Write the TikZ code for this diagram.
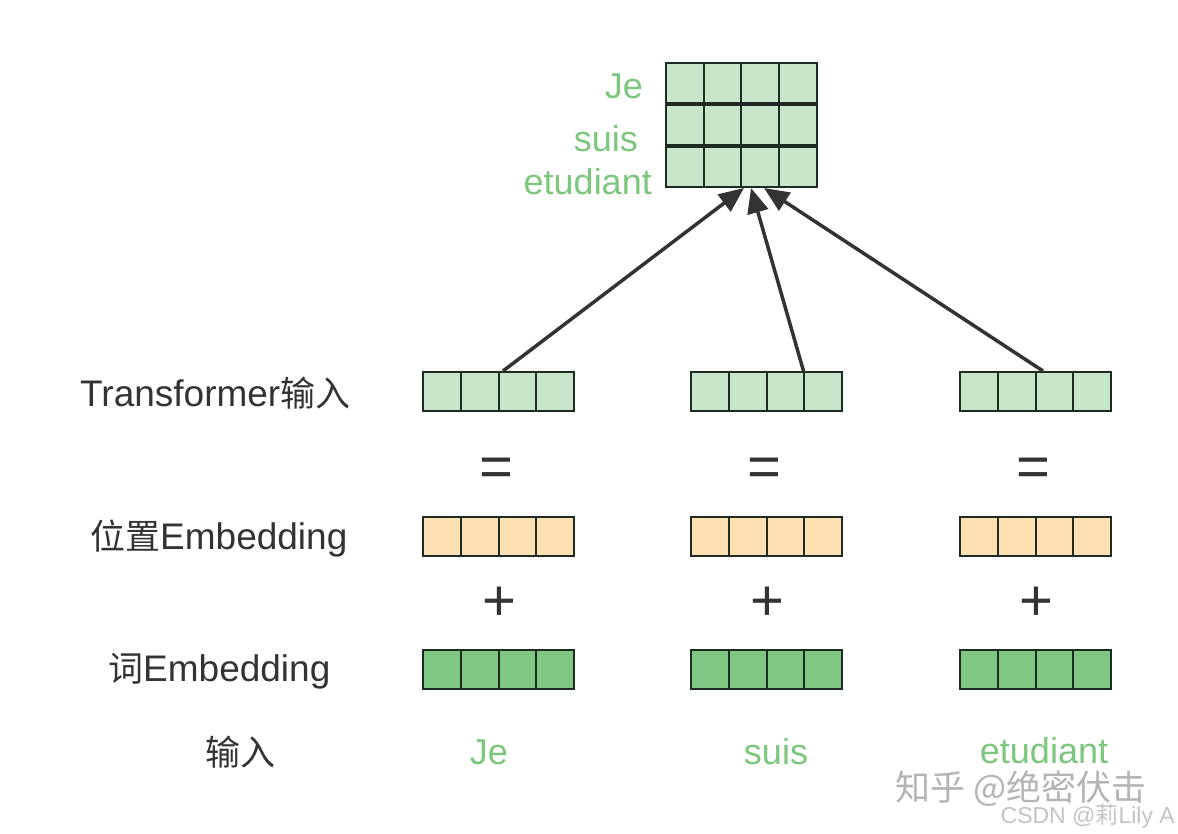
\documentclass[tikz,border=0pt]{standalone}
\usepackage{fontspec}
\setmainfont{Liberation Sans}
\newfontfamily\cjk{Noto Sans CJK SC}
\usetikzlibrary{arrows.meta}
\definecolor{lgreen}{HTML}{C8E6C9}
\definecolor{lorange}{HTML}{FFE0B2}
\definecolor{dgreen}{HTML}{81C784}
\definecolor{txtgreen}{HTML}{7DC67D}
\definecolor{edge}{HTML}{1E2B22}
\definecolor{txt}{HTML}{333333}
\definecolor{wm}{HTML}{B4B4B4}
\newcommand{\zh}[1]{{\cjk\fontsize{35}{40}\selectfont #1}}
\begin{document}
\begin{tikzpicture}[x=1pt,y=-1pt,
  vec/.style={draw=edge,line width=2pt,minimum width=151pt,minimum height=39pt,inner sep=0pt},
  lbl/.style={text=txt,font=\fontsize{37}{42}\selectfont,inner sep=0pt},
  glbl/.style={text=txtgreen,font=\fontsize{36}{42}\selectfont,inner sep=0pt},
  op/.style={text=txt,font=\fontsize{58}{66}\selectfont,inner sep=0pt},
  arr/.style={draw=txt,line width=3.5pt,-{Triangle[length=25pt,width=21pt]}}]
\useasboundingbox (0,0) rectangle (1178,834);
% vectors
\foreach \n/\cx in {1/498.5,2/766.5,3/1035.5}{
  \node[vec,fill=lgreen] (t\n) at (\cx,391.5) {};
  \node[vec,fill=lorange] (p\n) at (\cx,536.5) {};
  \node[vec,fill=dgreen] (w\n) at (\cx,669.5) {};
  \foreach \r in {t,p,w}{
    \foreach \d in {-37.5,0,37.5}{
      \draw[edge,line width=2pt] ([xshift=\d pt]\r\n.north) -- ([xshift=\d pt]\r\n.south);
    }
  }
  \node[op] (eq\n) at ([xshift=-2pt]\cx,472) {=};
  \node[op] (pl\n) at ([xshift=1pt]\cx,604) {+};
}
% top matrix
\foreach \r/\cy in {1/83,2/125.5,3/167}{
  \node[vec,minimum height=40pt,fill=lgreen] (m\r) at (741,\cy) {};
  \foreach \d in {-37.5,0,37.5}{
    \draw[edge,line width=2pt] ([xshift=\d pt]m\r.north) -- ([xshift=\d pt]m\r.south);
  }
}
\node[glbl,anchor=east] (lje) at (643,86) {Je};
\node[glbl,anchor=east] (lsuis) at (638,139) {suis};
\node[glbl,anchor=east] (let) at (652,182) {etudiant};
% arrows
\draw[arr] ([xshift=4.5pt]t1.north) -- ([xshift=3pt]m3.south);
\draw[arr] ([xshift=37pt]t2.north) -- ([xshift=10pt]m3.south);
\draw[arr] ([xshift=7.5pt]t3.north) -- ([xshift=23pt]m3.south);
% left labels
\node[lbl,anchor=west] (lt) at (80,393) {Transformer\zh{输入}};
\node[lbl,anchor=west] (lp) at (90,539) {\zh{位置}Embedding};
\node[lbl,anchor=west] (lw) at (108,671) {\zh{词}Embedding};
\node[lbl,anchor=west] (li) at (205,752) {\zh{输入}};
% bottom words
\node[glbl] (bje) at (489,752) {Je};
\node[glbl] (bsuis) at (776,752) {suis};
\node[glbl] (bet) at (1044,751) {etudiant};
% watermark
\node[text=wm,font=\cjk\fontsize{35}{40}\selectfont,inner sep=0pt,anchor=west] (wm1) at (895,789) {知乎 @绝密伏击};
\node[text=wm!80,font=\fontsize{23}{26}\selectfont,inner sep=0pt,anchor=east] (wm2) at (1175,816) {CSDN @{\cjk 莉}Lily A};
\end{tikzpicture}
\end{document}
